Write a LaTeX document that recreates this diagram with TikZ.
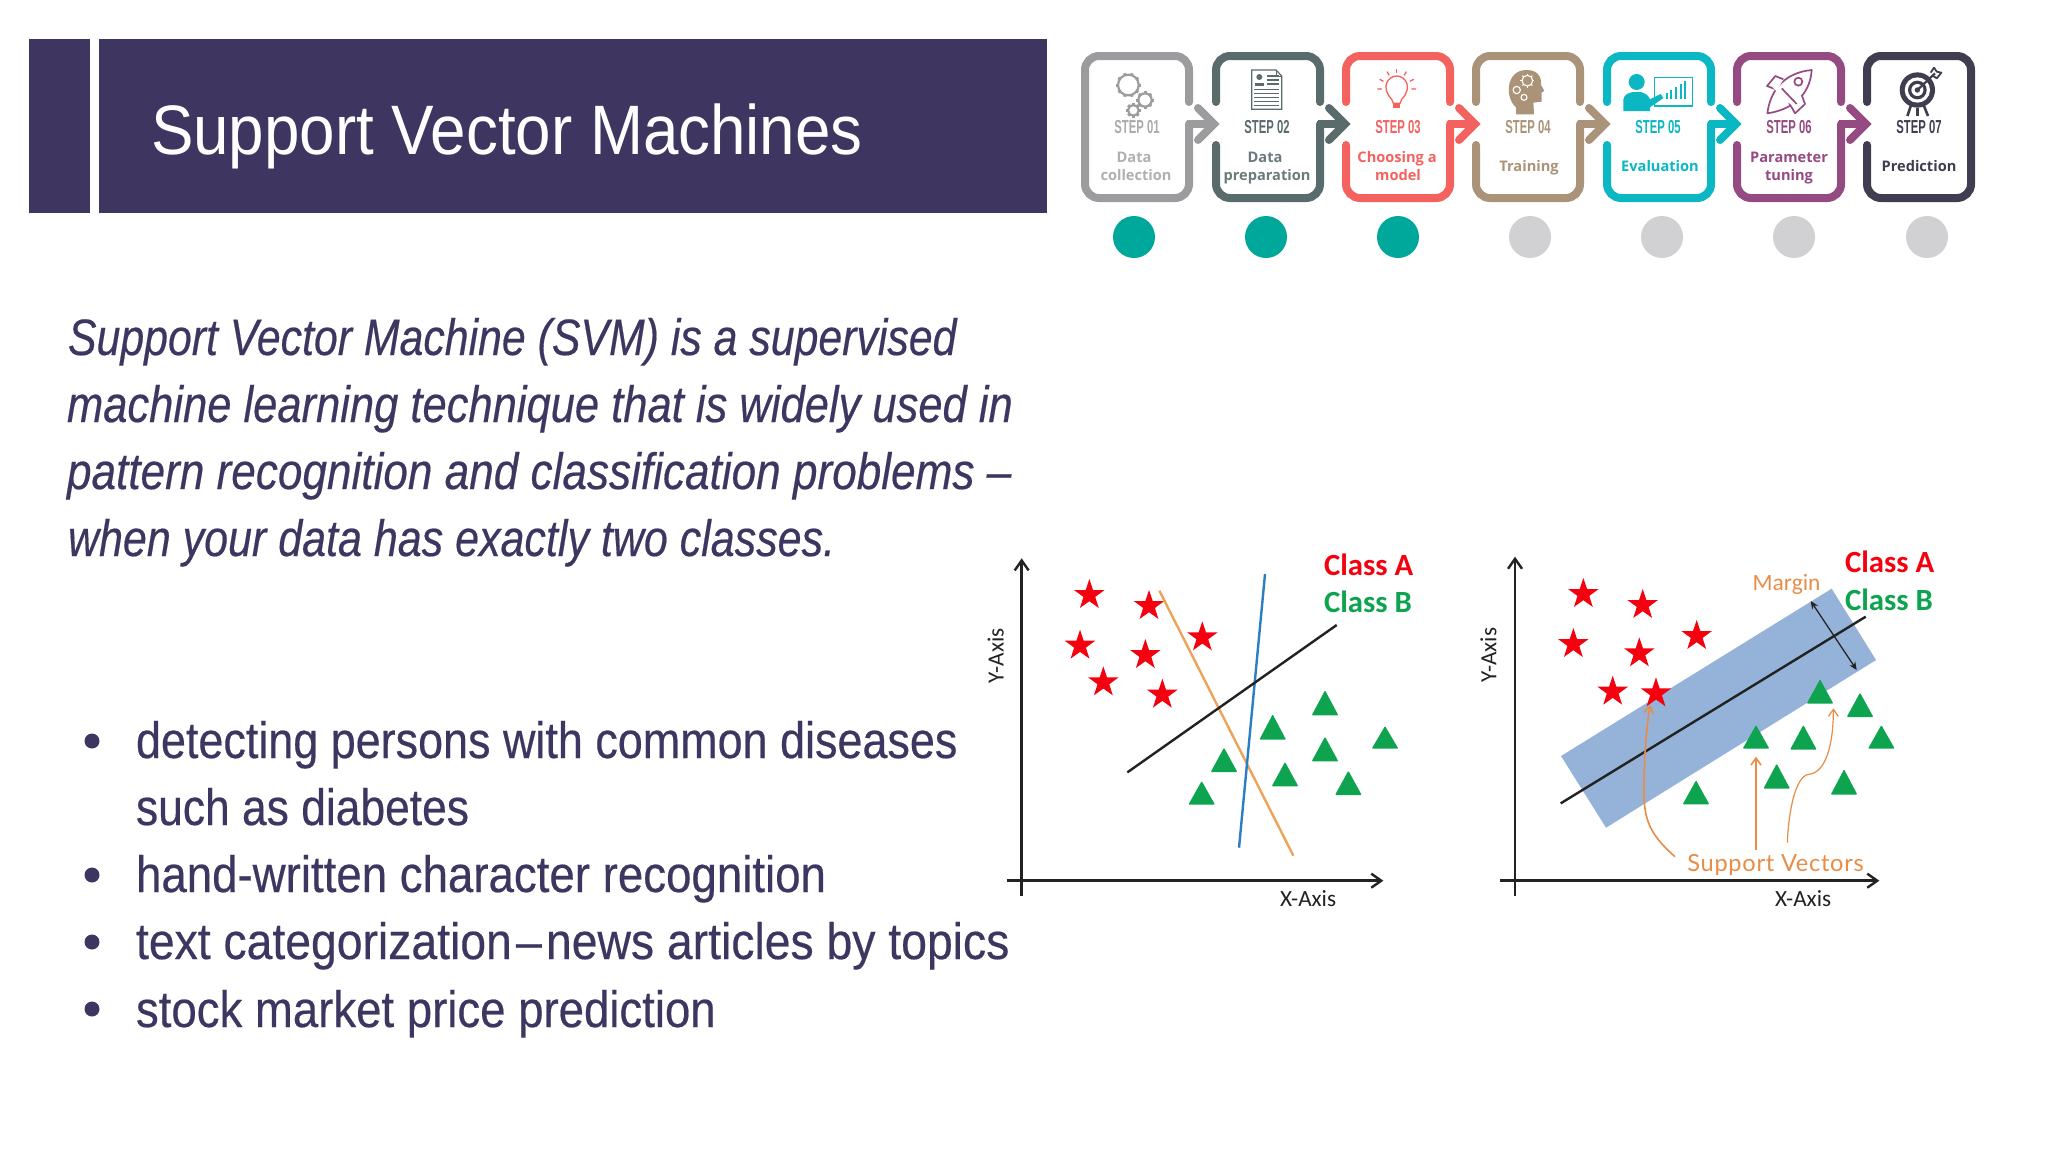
\documentclass[tikz,border=0pt]{standalone}
\usepackage{graphicx}
\usepackage{fontspec}
\usetikzlibrary{arrows.meta}
\setmainfont{Liberation Sans}
\newfontfamily\rct[FakeStretch=0.91]{Liberation Sans}
\newfontfamily\rci[FakeStretch=0.85,FakeBold=0.35]{Liberation Sans}
\newfontfamily\rcb[FakeStretch=0.88,FakeBold=0.35]{Liberation Sans}
\newfontfamily\stepf[FakeStretch=0.6]{Liberation Sans}
\newfontfamily\opn{Open Sans}
\newfontfamily\cb{Carlito}
\newfontfamily\hand[LetterSpace=3]{Lato}
\definecolor{ink}{HTML}{3E3660}
\definecolor{teal}{HTML}{00A79B}
\definecolor{dotg}{HTML}{D1D0D2}
\definecolor{cA}{HTML}{9C9C9E}
\definecolor{cB}{HTML}{5A6B6C}
\definecolor{cC}{HTML}{F4625F}
\definecolor{cD}{HTML}{AA9378}
\definecolor{cE}{HTML}{0AB7C3}
\definecolor{cF}{HTML}{954A82}
\definecolor{cG}{HTML}{403D51}
\definecolor{ptgreen}{HTML}{0DA34F}
\definecolor{ptred}{HTML}{F5000F}
\definecolor{band}{HTML}{95B2D9}
\definecolor{orng}{HTML}{E98C46}
\definecolor{axisc}{HTML}{222222}
\tikzset{
  txt/.style={inner sep=0,outer sep=0,anchor=base west},
  ctr/.style={inner sep=0,outer sep=0,anchor=base},
  boxline/.style={line width=4pt,line cap=round,rounded corners=7pt},
  axisline/.style={draw=axisc,line width=1.4pt,-{Straight Barb[length=5pt,width=7pt,line width=1.2pt]}},
  dotm/.style={circle,minimum size=21pt,inner sep=0,outer sep=0,fill=#1},
  bodyt/.style={txt,text=ink,font=\rcb\fontsize{25.6}{30}\selectfont},
  bodyi/.style={txt,text=ink,font=\rci\itshape\fontsize{25.6}{30}\selectfont},
  stept/.style={ctr,font=\stepf\bfseries\fontsize{9.4}{10}\selectfont},
  labt/.style={ctr,font=\opn\bfseries\fontsize{7.3}{9}\selectfont},
  clsA/.style={txt,text=ptred,font=\cb\bfseries\fontsize{15.4}{16}\selectfont},
  clsB/.style={txt,text=ptgreen,font=\cb\bfseries\fontsize{15.4}{16}\selectfont},
  axt/.style={text=axisc,font=\cb\fontsize{11.6}{12}\selectfont},
  pics/svstar/.style={code={\fill[ptred] (90:8pt) -- (126:3.1pt) -- (162:8pt) -- (198:3.1pt) -- (234:8pt) -- (270:3.1pt) -- (306:8pt) -- (342:3.1pt) -- (18:8pt) -- (54:3.1pt) -- cycle;}}
}
\newcommand{\StepBox}[3]{% x0, colour, flags: 0 first,1 middle,2 last
  \pgfmathsetmacro{\Lx}{#1+4}\pgfmathsetmacro{\Rx}{#1+108}
  \pgfmathsetmacro{\Sx}{#1+117}\pgfmathsetmacro{\Tx}{#1+133}
  \ifnum#3=0
    \draw[boxline,#2] (\Rx,102) -- (\Rx,56) -- (\Lx,56) -- (\Lx,198) -- (\Rx,198) -- (\Rx,124);
  \else\ifnum#3=1
    \draw[boxline,#2] (\Lx,102) -- (\Lx,56) -- (\Rx,56) -- (\Rx,102);
    \draw[boxline,#2] (\Lx,145) -- (\Lx,198) -- (\Rx,198) -- (\Rx,124);
  \else
    \draw[boxline,#2] (\Lx,102) -- (\Lx,56) -- (\Rx,56) -- (\Rx,198) -- (\Lx,198) -- (\Lx,145);
  \fi\fi
  \ifnum#3<2
    \draw[line width=4pt,#2] (\Rx-2,124) -- (\Tx-3,124);
    \draw[line width=4pt,#2,line cap=round,miter limit=4] (\Sx,108) -- (\Tx,124) -- (\Sx,140);
  \fi
}
\newcommand{\GearIcon}[5]{% cx cy r teeth colour
  \draw[#5,line width=1.1pt] (#1,#2) circle (#3);
  \pgfmathsetmacro{\stp}{360/#4}\pgfmathsetmacro{\nxt}{\stp}
  \foreach \a in {0,\nxt,...,359}{\draw[#5,line width=1.5pt] (#1,#2) ++(\a:#3) -- ++(\a:6);}
}
\newcommand{\TriP}[3]{\fill[ptgreen,rounded corners=.5pt] (#1,#2-2) -- (#1-40,#3+1) -- (#1+40,#3+1) -- cycle;}
\begin{document}
\begin{tikzpicture}[x=0.5pt,y=-0.5pt]
\useasboundingbox (0,0) rectangle (2048,1152);
\fill[white] (0,0) rectangle (2048,1152);
% Title
\fill[ink] (29,39) rectangle (90,213);
\fill[ink] (99,39) rectangle (1047,213);
\node[txt,text=white,font=\rct\fontsize{35}{40}\selectfont] (title) at (151,154) {Support Vector Machines};
% Intro
\node[bodyi] (i1) at (68,355) {\scalebox{.984}[1]{Support Vector Machine (SVM) is a supervised}};
\node[bodyi] (i2) at (67,422) {machine learning technique that is widely used in};
\node[bodyi] (i3) at (67,489) {\scalebox{1.014}[1]{pattern recognition and classification problems –}};
\node[bodyi] (i4) at (68,556) {\scalebox{.988}[1]{when your data has exactly two classes.}};
% Bullets
\foreach \y in {741,875,942,1009}{\fill[ink] (92,\y) circle (7.5);}
\node[bodyt] (b1) at (136,758) {\scalebox{.997}[1]{detecting persons with common diseases}};
\node[bodyt] (b2) at (136,825) {\scalebox{.985}[1]{such as diabetes}};
\node[bodyt] (b3) at (136,892) {\scalebox{1.013}[1]{hand-written character recognition}};
\node[bodyt] (b4) at (136,959) {\scalebox{1.028}[1]{text categorization\hspace{.08em}–\hspace{.08em}news articles by topics}};
\node[bodyt] (b5) at (136,1027) {\scalebox{1.011}[1]{stock market price prediction}};
% Stepper
\StepBox{1081}{cA}{0}
\StepBox{1212}{cB}{1}
\StepBox{1342}{cC}{1}
\StepBox{1472}{cD}{1}
\StepBox{1603}{cE}{1}
\StepBox{1733}{cF}{1}
\StepBox{1863}{cG}{2}
% Step captions
\node[stept,text=cA!85!white] (s1) at (1137,133) {STEP 01};
\node[stept,text=cB] (s2) at (1267,133) {STEP 02};
\node[stept,text=cC] (s3) at (1398,133) {STEP 03};
\node[stept,text=cD] (s4) at (1528,133) {STEP 04};
\node[stept,text=cE] (s5) at (1658,133) {STEP 05};
\node[stept,text=cF] (s6) at (1789,133) {STEP 06};
\node[stept,text=cG] (s7) at (1919,133) {STEP 07};
\node[labt,text=cA!80!white] (l1a) at (1134,162) {Data};
\node[labt,text=cA!80!white] (l1b) at (1136,180) {collection};
\node[labt,text=cB!90!white] (l2a) at (1265,162) {Data};
\node[labt,text=cB!90!white] (l2b) at (1267,180) {preparation};
\node[labt,text=cC] (l3a) at (1397,162) {Choosing a};
\node[labt,text=cC] (l3b) at (1398,180) {model};
\node[labt,text=cD] (l4) at (1529,171) {Training};
\node[labt,text=cE] (l5) at (1660,171) {Evaluation};
\node[labt,text=cF] (l6a) at (1789,162) {Parameter};
\node[labt,text=cF] (l6b) at (1789,180) {tuning};
\node[labt,text=cG] (l7) at (1919,171) {Prediction};
% Dots
\node[dotm=teal] (d1) at (1134,237) {};
\node[dotm=teal] (d2) at (1266,237) {};
\node[dotm=teal] (d3) at (1398,237) {};
\node[dotm=dotg] (d4) at (1530,237) {};
\node[dotm=dotg] (d5) at (1662,237) {};
\node[dotm=dotg] (d6) at (1794,237) {};
\node[dotm=dotg] (d7) at (1927,237) {};
% Icons (zoom 1 units)
\begin{scope}[shift={(1060,30)},x=0.16667pt,y=-0.16667pt]
  \GearIcon{205}{165}{31}{10}{cA}
  \GearIcon{255}{210}{20}{8}{cA}
  \GearIcon{220}{241}{16}{8}{cA}
  % document
  \draw[cB,line width=.6pt,fill=white] (575,120) -- (648,120) -- (665,138) -- (665,238) -- (575,238) -- cycle;
  \draw[cB,line width=.5pt] (648,120) -- (648,138) -- (665,138);
  \fill[cB] (598,141) circle (9);
  \fill[cB] (585,168) -- (585,158) -- (612,158) -- (612,168) -- cycle;
  \foreach \yy in {138,150,162}{\draw[cB,line width=.55pt] (620,\yy) -- (656,\yy);}
  \foreach \yy in {178,190,202,214,226}{\draw[cB,line width=.55pt] (583,\yy) -- (657,\yy);}
  % bulb
  \draw[cC,line width=.65pt] (995,208) .. controls (960,170) and (985,138) .. (1010,138) .. controls (1035,138) and (1060,170) .. (1025,208) -- (1020,220) -- (1000,220) -- cycle;
  \fill[cC] (1000,222) rectangle (1020,233);
  \foreach \a in {-90,-60,-120,-28,-152,2,178}{\draw[cC,line width=.65pt] (1010,175) ++(\a:45) -- ++(\a:13);}
  % head
  \fill[cD] (1368,253) -- (1368,232) .. controls (1335,205) and (1335,120) .. (1400,120) .. controls (1440,120) and (1445,150) .. (1443,165) -- (1453,183) -- (1445,187) -- (1445,215) -- (1420,218) -- (1422,253) -- cycle;
  \draw[white,line width=.55pt] (1402,152) circle (16);
  \draw[white,line width=.55pt] (1370,180) circle (11);
  \draw[white,line width=.55pt] (1392,202) circle (9);
  \foreach \a in {0,45,...,315}{\draw[white,line width=.6pt] (1402,152) ++(\a:16) -- ++(\a:5);}
\end{scope}
\begin{scope}[shift={(1540,30)},x=0.16667pt,y=-0.16667pt]
  % presenter
  \fill[cE] (290,156) circle (24);
  \fill[cE] (250,243) -- (250,208) .. controls (252,192) and (270,188) .. (278,186) -- (302,186) .. controls (315,190) and (325,195) .. (330,208) -- (362,192) -- (370,204) -- (330,232) -- (330,243) -- cycle;
  \draw[cE,line width=.7pt] (343,143) rectangle (458,228);
  \foreach \xx/\hh in {380/20,394/28,408/36,422/46,434/56}{\draw[cE,line width=1pt] (\xx,208) -- (\xx,208-\hh);}
  % rocket
  \draw[cF,line width=.85pt,line join=round] (815,120) .. controls (730,128) and (690,185) .. (682,250) .. controls (750,240) and (810,200) .. (815,120) -- cycle;
  \draw[cF,line width=.85pt] (775,155) circle (12);
  \draw[cF,line width=.85pt,line join=round,fill=white] (730,148) -- (706,138) -- (681,168) -- (712,180);
  \draw[cF,line width=.85pt,line join=round,fill=white] (785,195) -- (795,222) -- (765,250) -- (747,218);
  \draw[white,line width=1.2pt] (700,170) -- (770,235);
  \draw[cF,line width=.85pt] (725,175) -- (770,222);
  % target
  \fill[cG] (1132,180) circle (53);
  \fill[white] (1132,180) circle (38);
  \fill[cG] (1132,180) circle (28);
  \fill[white] (1132,180) circle (18);
  \fill[cG] (1132,180) circle (8);
  \draw[cG,line width=1.1pt] (1132,180) -- (1185,130);
  \draw[cG,line width=.9pt,line join=round] (1172,128) -- (1182,113) -- (1190,125) -- (1204,128) -- (1190,145) -- (1180,138);
  \draw[cG,line width=1.3pt] (1112,228) -- (1102,258);
  \draw[cG,line width=1.3pt] (1132,233) -- (1132,258);
  \draw[cG,line width=1.3pt] (1152,228) -- (1164,258);
\end{scope}
% Plot 1
\begin{scope}[shift={(970,530)},x=0.16667pt,y=-0.16667pt]
  \draw[axisline] (155,1098) -- (155,85);
  \draw[axisline] (110,1052) -- (1240,1052);
  \foreach \xx/\yy in {358/195,537/228,330/347,526/375,697/322,400/457,577/494}{\pic at (\xx,\yy) {svstar};}
  \TriP{1065}{483}{555}\TriP{908}{555}{628}\TriP{1245}{590}{655}\TriP{1065}{622}{693}
  \TriP{762}{655}{725}\TriP{945}{698}{768}\TriP{1135}{724}{794}\TriP{695}{755}{823}
  \draw[color={rgb,255:red,237;green,163;blue,90},line width=1.2pt] (568,182) -- (970,977);
  \draw[color={rgb,255:red,42;green,127;blue,196},line width=1.2pt] (885,132) -- (807,953);
  \draw[color=axisc,line width=1.2pt] (1100,285) -- (472,727);
  \node[clsA] (a1) at (1062,135) {Class A};
  \node[clsB] (a2) at (1062,246) {Class B};
  \node[axt,txt] (xa) at (930,1130) {X-Axis};
  \node[axt,rotate=90,inner sep=0] (ya) at (77,378) {Y-Axis};
\end{scope}
% Plot 2
\begin{scope}[shift={(1470,530)},x=0.16667pt,y=-0.16667pt]
  \fill[band] (273,678) -- (1085,176) -- (1218,390) -- (408,893) -- cycle;
  \draw[axisline] (135,1098) -- (135,80);
  \draw[axisline] (90,1052) -- (1228,1052);
  \foreach \xx/\yy in {340/192,518/225,310/342,508/370,680/318,428/485,558/490}{\pic at (\xx,\yy) {svstar};}
  \TriP{1050}{450}{520}\TriP{1170}{490}{560}\TriP{1234}{587}{655}\TriP{1000}{587}{658}
  \TriP{858}{587}{655}\TriP{920}{703}{775}\TriP{1122}{720}{793}\TriP{678}{753}{822}
  \draw[color=axisc,line width=1.2pt] (1187,260) -- (272,820);
  \draw[color=axisc,line width=.6pt,{Stealth[length=4pt,width=3.5pt]}-{Stealth[length=4pt,width=3.5pt]}] (1022,213) -- (1160,420);
  \draw[orng,line width=.8pt,-{Straight Barb[length=3.5pt,width=5pt]}] (615,980) .. controls (530,905) and (520,860) .. (522,760) .. controls (522,680) and (530,590) .. (540,525);
  \draw[orng,line width=.8pt,-{Straight Barb[length=3.5pt,width=5pt]}] (858,960) -- (858,680);
  \draw[orng,line width=.6pt,-{Straight Barb[length=3.5pt,width=5pt]}] (952,938) .. controls (955,850) and (975,740) .. (1015,733) .. controls (1065,730) and (1090,650) .. (1090,535);
  \node[clsA] (c1) at (1125,128) {Class A};
  \node[clsB] (c2) at (1125,240) {Class B};
  \node[txt,text=orng,font=\cb\fontsize{11.7}{12}\selectfont] (mg) at (848,180) {Margin};
  \node[txt,text=orng,font=\hand\fontsize{11.8}{12}\selectfont] (sv) at (652,1025) {Support Vectors};
  \node[axt,txt] (xb) at (915,1130) {X-Axis};
  \node[axt,rotate=90,inner sep=0] (yb) at (55,376) {Y-Axis};
\end{scope}
\end{tikzpicture}
\end{document}
